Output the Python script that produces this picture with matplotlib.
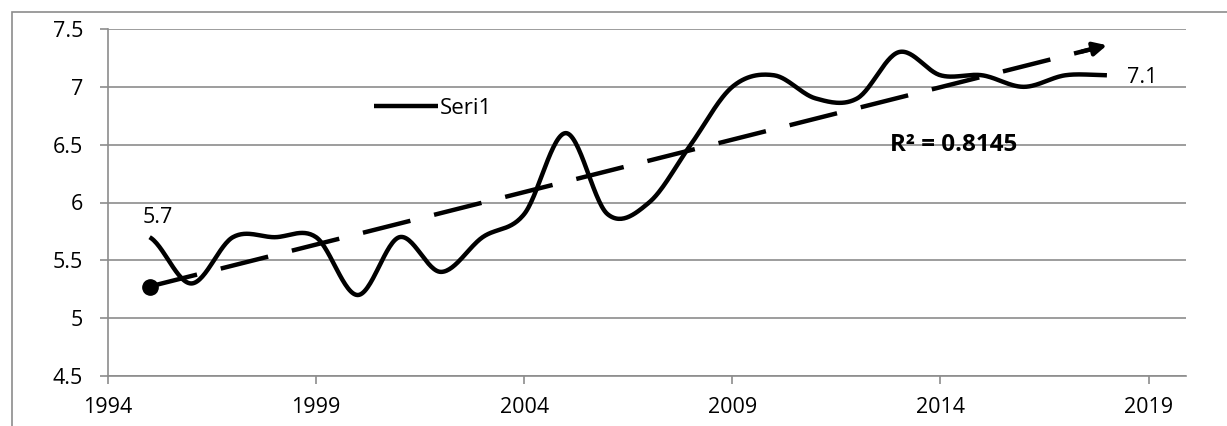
"""Yearly series 1995-2018 with a smoothed line and a linear trend (Excel-style chart)."""
import numpy as np
import matplotlib
matplotlib.use("Agg")
import matplotlib.pyplot as plt
from matplotlib.patches import Rectangle

years = [1995, 1996, 1997, 1998, 1999, 2000, 2001, 2002, 2003, 2004, 2005, 2006,
         2007, 2008, 2009, 2010, 2011, 2012, 2013, 2014, 2015, 2016, 2017, 2018]
values = [5.7, 5.3, 5.7, 5.7, 5.7, 5.2, 5.7, 5.4, 5.7, 5.9, 6.6, 5.9,
          6.0, 6.5, 7.0, 7.1, 6.9, 6.9, 7.3, 7.1, 7.1, 7.0, 7.1, 7.1]
series_name = "Seri1"
r2_text = "R\u00b2 = 0.8145"
x_ticks = [1994, 1999, 2004, 2009, 2014, 2019]
y_ticks = [4.5, 5, 5.5, 6, 6.5, 7, 7.5]

GRID = "#8c8c8c"
FS = 15.5


def smooth(xs, ys, n=30):
    # Catmull-Rom through the points, like Excel's "smoothed line"
    xs = np.asarray(xs, float)
    ys = np.asarray(ys, float)
    px = np.concatenate([[2 * xs[0] - xs[1]], xs, [2 * xs[-1] - xs[-2]]])
    py = np.concatenate([[ys[0]], ys, [ys[-1]]])
    out_x, out_y = [], []
    t = np.linspace(0, 1, n, endpoint=False)
    for i in range(1, len(px) - 2):
        for p, o in ((px, out_x), (py, out_y)):
            p0, p1, p2, p3 = p[i - 1], p[i], p[i + 1], p[i + 2]
            o.extend(0.5 * ((2 * p1) + (-p0 + p2) * t
                            + (2 * p0 - 5 * p1 + 4 * p2 - p3) * t ** 2
                            + (-p0 + 3 * p1 - 3 * p2 + p3) * t ** 3))
    out_x.append(xs[-1])
    out_y.append(ys[-1])
    return np.array(out_x), np.array(out_y)


plt.rcParams["font.family"] = ["Open Sans", "DejaVu Sans"]

fig = plt.figure(figsize=(12.27, 4.26), dpi=100)
# outer chart frame
fig.patches.append(Rectangle((12 / 1227, -0.1), 1.2, 1.1 - 12 / 426,
                             transform=fig.transFigure, fill=False,
                             edgecolor=GRID, lw=1.2))
ax = fig.add_axes([108 / 1227, 50 / 426, 1078 / 1227, 347 / 426])

sx, sy = smooth(years, values)
ax.plot(sx, sy, color="black", lw=3.2, solid_capstyle="butt", label=series_name, zorder=3)

# linear trend line with dot at start and arrow at end
slope, icpt = np.polyfit(years, values, 1)
tx = np.array([years[0], years[-1] - 0.35])
ty = slope * tx + icpt
ax.plot(tx, ty, color="black", lw=3.2, dashes=(11, 5.5), zorder=3)
ax.plot([years[0]], [slope * years[0] + icpt], "o", color="black", ms=11, zorder=4)
ax.annotate("", xy=(years[-1], slope * years[-1] + icpt),
            xytext=(years[-1] - 0.6, slope * (years[-1] - 0.6) + icpt),
            arrowprops=dict(arrowstyle="-|>", color="black", lw=3,
                            mutation_scale=20, shrinkA=0, shrinkB=0), zorder=4)

ax.text(years[0] + 0.2, values[0] + 0.17, f"{values[0]:g}", fontsize=FS, ha="center", va="center")
ax.text(years[-1] + 0.85, values[-1] - 0.02, f"{values[-1]:g}", fontsize=FS, ha="center", va="center")
ax.text(2012.8, 6.5, r2_text, fontsize=17.5, fontweight="bold", ha="left", va="center")

ax.set_xlim(1994, 2019.9)
ax.set_ylim(4.5, 7.5)
ax.set_xticks(x_ticks)
ax.set_yticks(y_ticks)
ax.set_yticklabels([f"{v:g}" for v in y_ticks])
ax.yaxis.grid(True, color=GRID, lw=1.2)
ax.set_axisbelow(True)
for s in ("top", "right"):
    ax.spines[s].set_visible(False)
for s in ("left", "bottom"):
    ax.spines[s].set_color(GRID)
    ax.spines[s].set_linewidth(1.2)
ax.tick_params(axis="both", colors=GRID, labelcolor="black", labelsize=FS,
               length=6, width=1.2)
ax.tick_params(axis="x", pad=9)
ax.tick_params(axis="y", pad=12)

ax.legend(loc="center left", bbox_to_anchor=(0.228, 0.772), frameon=False,
          fontsize=16, handlelength=2.9, handletextpad=0.05)

fig.savefig("out.png", dpi=100)
